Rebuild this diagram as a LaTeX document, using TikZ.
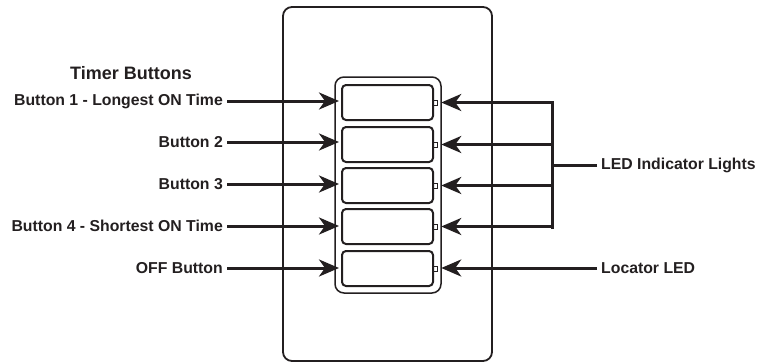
\documentclass[tikz,border=0pt]{standalone}
\usepackage{fontspec}
\setmainfont{Liberation Sans}
\usetikzlibrary{arrows.meta}
\definecolor{ink}{HTML}{231F20}
\begin{document}
\begin{tikzpicture}[x=1pt,y=-1pt, color=ink,
  lbl/.style={font=\bfseries\fontsize{15.8}{18}\selectfont, inner sep=4pt},
  btn/.style={draw, line width=2pt, rounded corners=4pt, minimum width=91pt, minimum height=35pt, inner sep=0pt},
  ledbox/.style={draw, line width=1pt, minimum width=4.5pt, minimum height=5pt, inner sep=0pt},
  arr/.style={line width=3pt, -{Stealth[length=20pt,width=17pt,inset=6pt]}, shorten >=3pt}]
\useasboundingbox (0,0) rectangle (758,362);
% plate
\draw[line width=1.8pt, rounded corners=9pt] (283,7) rectangle (492,361);
% inner frame
\draw[line width=1.5pt, rounded corners=9pt] (335,77) rectangle (441,293);
% buttons and leds
\foreach \i/\y in {1/102.5,2/144.5,3/185.5,4/226.5,5/268.5}{
  \node[btn] (b\i) at (387.5,\y) {};
  \node[ledbox] (led\i) at (435.5,\y) {};
}
% left labels
\node[font=\bfseries\fontsize{18}{20}\selectfont] (title) at (131,73) {Timer Buttons};
\node[lbl, anchor=east] (l1) at (227,101) {Button 1 - Longest ON Time};
\node[lbl, anchor=east] (l2) at (227,142) {Button 2};
\node[lbl, anchor=east] (l3) at (227,184) {Button 3};
\node[lbl, anchor=east] (l4) at (227,226) {Button 4 - Shortest ON Time};
\node[lbl, anchor=east] (l5) at (227,268) {OFF Button};
\foreach \i in {1,...,5}{
  \draw[arr, shorten >=2pt] (l\i.east) -- (l\i.east -| b\i.west);
}
% right labels
\node[lbl, anchor=west] (ledl) at (597,165) {LED Indicator Lights};
\node[lbl, anchor=west] (locl) at (597,268) {Locator LED};
\coordinate (bus) at (552,165);
\draw[line width=3pt] (ledl.west) -- (bus);
\foreach \i in {1,...,4}{
  \draw[arr] (bus) |- (led\i.east);
}
\draw[line width=3pt] (552,101.5) -- (552,228.5);
\draw[arr] (locl.west) -- (locl.west -| led5.east);
\end{tikzpicture}
\end{document}
